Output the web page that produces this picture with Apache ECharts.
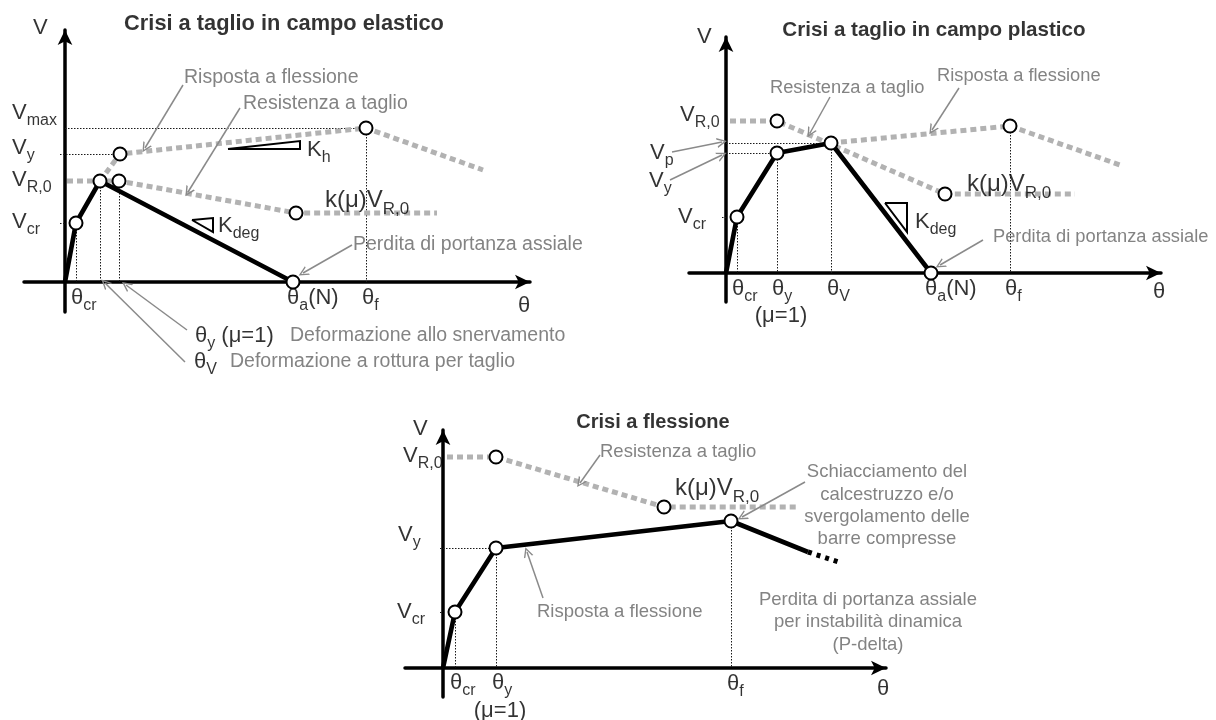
<!DOCTYPE html>
<html>
<head>
<meta charset="utf-8">
<script src="https://cdn.jsdelivr.net/npm/echarts@6/dist/echarts.min.js"></script>
<style>
  html, body { margin: 0; padding: 0; background: #ffffff; }
  #chart { width: 1216px; height: 720px; }
</style>
</head>
<body>
<div id="chart"></div>
<script>
// ---- Crisi a taglio in campo elastico (shear failure before yielding) ----
const elResponse = [[0, 0], [11, 59], [35, 101], [228, 0]];
const elFlexure = [[35, 101], [55, 128], [301, 154], [418, 112]];
const elShear = [[2, 101], [54, 101], [231, 69], [372, 69]];
const elPoints = [[11, 59], [35, 101], [54, 101], [55, 128], [301, 154], [231, 69], [228, 0]];
const elGuides = [
  [[0, 154], [301, 154]], [[-5, 128], [55, 128]], [[-5, 59], [0, 59]],
  [[11, 59], [11, 0]], [[35, 101], [35, 0]], [[54, 101], [54, 0]], [[301, 154], [301, 0]]
];
const elSlopes = [
  [[163, 133], [235, 133], [235, 141], [163, 133]],
  [[127, 62], [148, 64], [148, 50], [127, 62]]
];
const elPointers = [
  [[118, 197], [80, 134]], [[175, 174], [123, 90]], [[287, 37], [238, 9]],
  [[122, -48], [61, -3]], [[120, -80], [40, -1]]
];
const elTexts = [
  [219, 258, '{t|Crisi a taglio in campo elastico}', 'center'],
  [-32, 254, '{b|V}'],
  [-53, 169, '{b|V}{s|max}'],
  [-53, 134, '{b|V}{s|y}'],
  [-53, 102, '{b|V}{s|R,0}'],
  [-53, 60, '{b|V}{s|cr}'],
  [6, -16, '{b|θ}{s|cr}'],
  [222, -16, '{b|θ}{s|a}{b|(N)}'],
  [297, -16, '{b|θ}{s|f}'],
  [453, -24, '{b|θ}'],
  [119, 204, '{g|Risposta a flessione}'],
  [178, 178, '{g|Resistenza a taglio}'],
  [260, 82, '{k|k(μ)V}{ks|R,0}'],
  [242, 132, '{b|K}{s|h}'],
  [153, 56, '{b|K}{s|deg}'],
  [288, 37, '{g|Perdita di portanza assiale}'],
  [130, -54, '{b|θ}{s|y}{b| (μ=1)}'],
  [225, -54, '{g|Deformazione allo snervamento}'],
  [129, -80, '{b|θ}{s|V}'],
  [165, -80, '{g|Deformazione a rottura per taglio}']
];

// ---- Crisi a taglio in campo plastico (shear failure after yielding) ----
const plResponse = [[0, 0], [11, 56], [51, 120], [105, 130], [205, 0]];
const plFlexure = [[105, 130], [284, 147], [394, 108]];
const plShear = [[4, 152], [51, 152], [219, 79], [349, 79]];
const plPoints = [[11, 56], [51, 120], [105, 130], [205, 0], [51, 152], [219, 79], [284, 147]];
const plGuides = [
  [[0, 130], [105, 130]], [[0, 120], [51, 120]], [[-4, 56], [0, 56]],
  [[11, 56], [11, 0]], [[51, 120], [51, 0]], [[105, 130], [105, 0]], [[284, 147], [284, 0]]
];
const plSlopes = [
  [[159, 70], [181, 70], [181, 41], [159, 70]]
];
const plPointers = [
  [[-54, 121], [-4, 131]], [[-56, 93], [-4, 118]], [[104, 176], [84, 140]],
  [[233, 185], [206, 143]], [[257, 33], [214, 8]]
];
const plTexts = [
  [208, 243, '{t|Crisi a taglio in campo plastico}', 'center'],
  [-29, 236, '{b|V}'],
  [-46, 158, '{b|V}{s|R,0}'],
  [-76, 120, '{b|V}{s|p}'],
  [-77, 92, '{b|V}{s|y}'],
  [-48, 56, '{b|V}{s|cr}'],
  [6, -16, '{b|θ}{s|cr}'],
  [46, -16, '{b|θ}{s|y}'],
  [55, -43, '{b|(μ=1)}', 'center'],
  [101, -16, '{b|θ}{s|V}'],
  [199, -16, '{b|θ}{s|a}{b|(N)}'],
  [279, -16, '{b|θ}{s|f}'],
  [427, -19, '{b|θ}'],
  [44, 185, '{g|Resistenza a taglio}'],
  [211, 197, '{g|Risposta a flessione}'],
  [241, 89, '{k|k(μ)V}{ks|R,0}'],
  [189, 51, '{b|K}{s|deg}'],
  [267, 36, '{g|Perdita di portanza assiale}']
];

// ---- Crisi a flessione (flexural failure) ----
const flResponse = [[0, 0], [12, 56], [53, 120], [288, 147], [365, 116]];
const flTail = [[365, 116], [399, 105]];
const flShear = [[4, 211], [53, 211], [221, 161], [355, 161]];
const flPoints = [[12, 56], [53, 120], [288, 147], [53, 211], [221, 161]];
const flGuides = [
  [[-3, 120], [53, 120]], [[-3, 56], [0, 56]],
  [[12, 56], [12, 0]], [[53, 120], [53, 0]], [[288, 147], [288, 0]]
];
const flPointers = [
  [[157, 213], [137, 185]], [[362, 186], [299, 151]], [[100, 70], [84, 116]]
];
const flTexts = [
  [210, 246, '{t|Crisi a flessione}', 'center'],
  [-30, 239, '{b|V}'],
  [-40, 212, '{b|V}{s|R,0}'],
  [-45, 133, '{b|V}{s|y}'],
  [-46, 56, '{b|V}{s|cr}'],
  [7, -15, '{b|θ}{s|cr}'],
  [49, -15, '{b|θ}{s|y}'],
  [57, -43, '{b|(μ=1)}', 'center'],
  [284, -16, '{b|θ}{s|f}'],
  [434, -21, '{b|θ}'],
  [157, 216, '{g|Resistenza a taglio}'],
  [232, 180, '{k|k(μ)V}{ks|R,0}'],
  [444, 196, '{g|Schiacciamento del}', 'center'],
  [444, 173, '{g|calcestruzzo e/o}', 'center'],
  [444, 151, '{g|svergolamento delle}', 'center'],
  [444, 129, '{g|barre compresse}', 'center'],
  [94, 56, '{g|Risposta a flessione}'],
  [425, 68, '{g|Perdita di portanza assiale}', 'center'],
  [425, 46, '{g|per instabilità dinamica}', 'center'],
  [425, 23, '{g|(P-delta)}', 'center']
];

const FONT = '"Liberation Sans", Arial, Helvetica, sans-serif';
const POINTER_HEAD = 'path://M0,10 L5,0 L10,10 L8.4,10 L5,3 L1.6,10 Z';

function richStyles(grayPx, titlePx) {
  return {
    t: { fontFamily: FONT, fontSize: titlePx, fontWeight: 'bold', color: '#000', lineHeight: titlePx + 4 },
    b: { fontFamily: FONT, fontSize: 22, color: '#000', lineHeight: 23 },
    s: { fontFamily: FONT, fontSize: 16, color: '#000', lineHeight: 16, padding: [16, 0, 0, 0] },
    k: { fontFamily: FONT, fontSize: 24, color: '#000', lineHeight: 25 },
    ks: { fontFamily: FONT, fontSize: 17, color: '#000', lineHeight: 17, padding: [18, 0, 0, 0] },
    g: { fontFamily: FONT, fontSize: grayPx, color: '#646464', lineHeight: grayPx + 2 }
  };
}

const panels = [
  { grid: { left: 24, top: 30, width: 506, height: 282 }, x: [-41, 465], y: [-30, 252],
    response: elResponse, flexure: elFlexure, shear: elShear, points: elPoints, guides: elGuides,
    slopes: elSlopes, pointers: elPointers, texts: elTexts, gray: 19.5, title: 21.8 },
  { grid: { left: 689, top: 37, width: 472, height: 265 }, x: [-37, 435], y: [-29, 236],
    response: plResponse, flexure: plFlexure, shear: plShear, points: plPoints, guides: plGuides,
    slopes: plSlopes, pointers: plPointers, texts: plTexts, gray: 18.3, title: 20.6 },
  { grid: { left: 405, top: 430, width: 481, height: 267 }, x: [-38, 443], y: [-29, 238],
    response: flResponse, tail: flTail, flexure: null, shear: flShear, points: flPoints, guides: flGuides,
    slopes: [], pointers: flPointers, texts: flTexts, gray: 18.5, title: 20 }
];

const dashedGray = { color: '#b2b2b2', width: 5, type: [6, 4], cap: 'butt' };

function panelSeries(p, i) {
  const ax = { xAxisIndex: i, yAxisIndex: i, silent: true, animation: false };
  const list = [];
  // thin dotted reference lines
  list.push(Object.assign({}, ax, {
    type: 'lines', coordinateSystem: 'cartesian2d', z: 1, clip: false,
    lineStyle: { color: '#1a1a1a', width: 1, type: [1.5, 1.5], opacity: 1 },
    data: p.guides.map(c => ({ coords: c }))
  }));
  // shear resistance envelope
  list.push(Object.assign({}, ax, {
    type: 'line', data: p.shear, showSymbol: false, z: 2, clip: false, lineStyle: dashedGray
  }));
  // flexural response envelope
  if (p.flexure) {
    list.push(Object.assign({}, ax, {
      type: 'line', data: p.flexure, showSymbol: false, z: 2, clip: false, lineStyle: dashedGray
    }));
  }
  // actual response curve
  list.push(Object.assign({}, ax, {
    type: 'line', data: p.response, showSymbol: false, z: 3, clip: false,
    lineStyle: { color: '#000', width: 4.6, join: 'round' }
  }));
  if (p.tail) {
    list.push(Object.assign({}, ax, {
      type: 'line', data: p.tail, showSymbol: false, z: 3, clip: false,
      lineStyle: { color: '#000', width: 5, type: [4, 5], cap: 'butt' }
    }));
  }
  // slope triangles (K_h, K_deg)
  if (p.slopes.length) {
    list.push(Object.assign({}, ax, {
      type: 'lines', coordinateSystem: 'cartesian2d', polyline: true, z: 3, clip: false,
      lineStyle: { color: '#000', width: 2, opacity: 1 },
      data: p.slopes.map(c => ({ coords: c }))
    }));
  }
  // callout pointers
  list.push(Object.assign({}, ax, {
    type: 'lines', coordinateSystem: 'cartesian2d', z: 5, clip: false,
    symbol: ['none', POINTER_HEAD], symbolSize: [9, 10],
    lineStyle: { color: '#8a8a8a', width: 1.5, opacity: 1 },
    data: p.pointers.map(c => ({ coords: c }))
  }));
  // characteristic points
  list.push(Object.assign({}, ax, {
    type: 'scatter', data: p.points, symbol: 'circle', symbolSize: 13, z: 4, clip: false,
    itemStyle: { color: '#ffffff', borderColor: '#000', borderWidth: 2, opacity: 1 }
  }));
  // labels and notes
  list.push(Object.assign({}, ax, {
    type: 'scatter', symbolSize: 0, z: 6, clip: false,
    data: p.texts.map(([x, y, txt, al]) => ({ name: txt, value: [x, y], label: { align: al || 'left' } })),
    label: {
      show: true, position: [0, 0], verticalAlign: 'middle',
      formatter: q => q.name, rich: richStyles(p.gray, p.title)
    }
  }));
  return list;
}

const chart = echarts.init(document.getElementById('chart'), null, { renderer: 'canvas' });
chart.setOption({
  backgroundColor: '#ffffff',
  animation: false,
  tooltip: { show: false },
  grid: panels.map(p => Object.assign({ containLabel: false }, p.grid)),
  xAxis: panels.map((p, i) => ({
    type: 'value', gridIndex: i, min: p.x[0], max: p.x[1],
    axisLine: { show: true, onZero: true, symbol: ['none', 'arrow'], symbolSize: [11, 15],
      lineStyle: { color: '#000', width: 3.5 } },
    axisTick: { show: false }, axisLabel: { show: false }, splitLine: { show: false }
  })),
  yAxis: panels.map((p, i) => ({
    type: 'value', gridIndex: i, min: p.y[0], max: p.y[1],
    axisLine: { show: true, onZero: true, symbol: ['none', 'arrow'], symbolSize: [11, 15],
      lineStyle: { color: '#000', width: 3.5 } },
    axisTick: { show: false }, axisLabel: { show: false }, splitLine: { show: false }
  })),
  series: panels.flatMap((p, i) => panelSeries(p, i))
});
</script>
</body>
</html>
